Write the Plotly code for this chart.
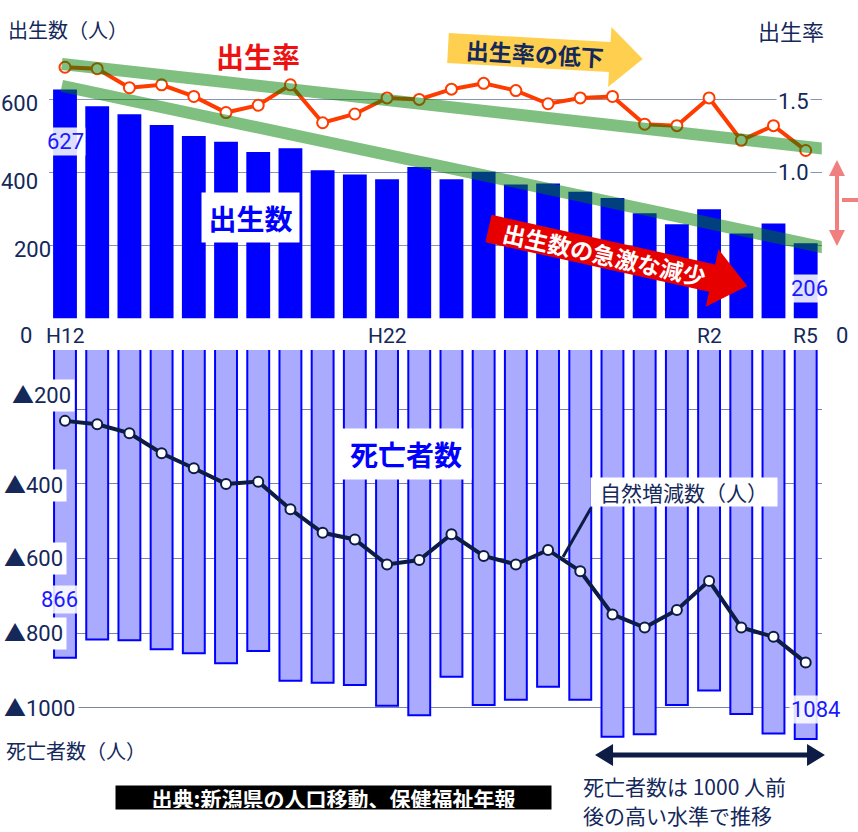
import numpy as np
import plotly.graph_objects as go

# 年度 (H12〜R5)
years = ["H12", "H13", "H14", "H15", "H16", "H17", "H18", "H19", "H20", "H21", "H22", "H23",
         "H24", "H25", "H26", "H27", "H28", "H29", "H30", "R1", "R2", "R3", "R4", "R5"]

# 出生数（人）
births = [627, 581, 559, 530, 500, 484, 456, 466, 406, 394, 381, 415,
          381, 402, 367, 370, 347, 330, 288, 258, 299, 233, 260, 206]

# 出生率
birth_rate = [1.72, 1.71, 1.58, 1.60, 1.52, 1.41, 1.46, 1.60, 1.34, 1.40, 1.51, 1.50,
              1.57, 1.61, 1.56, 1.47, 1.51, 1.52, 1.33, 1.32, 1.51, 1.22, 1.32, 1.15]

# 死亡者数（人）
deaths = [866, 817, 819, 843, 854, 881, 848, 928, 933, 939, 995, 1020,
          917, 993, 979, 944, 979, 1078, 1071, 993, 954, 1017, 1069, 1084]

# 自然増減数（人）
natural = [-231, -240, -264, -318, -358, -400, -394, -468, -531, -549, -616, -604,
           -535, -593, -616, -577, -634, -750, -785, -738, -660, -785, -810, -879]

W, H = 858, 832
JP = "Noto Sans CJK JP"
NUM = "Roboto, Noto Sans CJK JP"
NAVY = "#14285a"


def PX(x):
    return x / W


def PY(y):
    return 1 - y / H


def rot_path(x0, y0, pts, deg):
    # 矢印ポリゴンを回転してpaper座標のpathにする
    t = np.radians(deg)
    out = []
    for u, v in pts:
        x = x0 + u * np.cos(t) - v * np.sin(t)
        y = y0 + u * np.sin(t) + v * np.cos(t)
        out.append("%.4f,%.4f" % (PX(x), PY(y)))
    return "M" + " L".join(out) + " Z"


def poly_path(pts):
    return "M" + " L".join("%.4f,%.4f" % (PX(a), PY(b)) for a, b in pts) + " Z"


def arrow_pts(body_len, body_half, tip, head_half):
    return [(0, -body_half), (body_len, -body_half), (body_len, -head_half), (tip, 0),
            (body_len, head_half), (body_len, body_half), (0, body_half)]


fig = go.Figure()

fig.add_trace(go.Bar(x=years, y=births, xaxis="x", yaxis="y", width=0.74,
                     marker=dict(color="#0000ff", line=dict(width=0))))
fig.add_trace(go.Scatter(x=years, y=birth_rate, xaxis="x", yaxis="y2", mode="lines+markers",
                         line=dict(color="#ff3c00", width=4),
                         marker=dict(size=11, color="white", line=dict(color="#ff3c00", width=2))))
fig.add_trace(go.Bar(x=years, y=[-d for d in deaths], xaxis="x2", yaxis="y3", width=0.68,
                     marker=dict(color="#aaaaff", line=dict(color="#0000ff", width=2))))
fig.add_trace(go.Scatter(x=years, y=natural, xaxis="x2", yaxis="y3", mode="lines+markers",
                         line=dict(color="#0c1c45", width=4),
                         marker=dict(size=10, color="white", line=dict(color="#0c1c45", width=2))))

xdom = [PX(48.9), PX(821.8)]
fig.update_layout(
    width=W, height=H, margin=dict(l=0, r=0, t=0, b=0), autosize=False,
    template="none", showlegend=False, hovermode=False,
    plot_bgcolor="white", paper_bgcolor="white",
    xaxis=dict(domain=xdom, anchor="y", type="category", range=[-0.5, 23.5],
               showticklabels=False, showgrid=False, zeroline=False),
    yaxis=dict(domain=[PY(318.5), PY(30)], range=[0, 790], tickvals=[200, 400, 600],
               showticklabels=False, gridcolor="#8a94b4", gridwidth=1, zeroline=False),
    yaxis2=dict(overlaying="y", anchor="x", side="right", range=[0, 790 / 400],
                showgrid=False, showticklabels=False, zeroline=False),
    xaxis2=dict(domain=xdom, anchor="y3", type="category", range=[-0.5, 23.5],
                showticklabels=False, showgrid=False, zeroline=False),
    yaxis3=dict(domain=[PY(750), PY(350)], range=[-1113.4, -41],
                tickvals=[-200, -400, -600, -800, -1000],
                showticklabels=False, gridcolor="#7a84a8", gridwidth=1, zeroline=False),
)

shapes = []
# 緑のトレンド帯
shapes.append(dict(type="line", xref="x", yref="y", x0=-0.1, y0=697, x1=23.97, y1=461,
                   line=dict(color="rgba(0,128,0,0.5)", width=12)))
shapes.append(dict(type="line", xref="x", yref="y", x0=-0.1, y0=637, x1=23.97, y1=187,
                   line=dict(color="rgba(0,128,0,0.5)", width=12)))
# 黄色い矢印
shapes.append(dict(type="path", xref="paper", yref="paper",
                   path=rot_path(448, 48, arrow_pts(162, 15, 195, 30), 3.2),
                   fillcolor="#ffd04f", line=dict(width=0)))
# 赤い矢印
shapes.append(dict(type="path", xref="paper", yref="paper",
                   path=rot_path(488.5, 228.5, arrow_pts(229, 14, 265, 29.5), 12.5),
                   fillcolor="#e60000", line=dict(width=0)))
# ピンクの両矢印
pink = [(837, 160), (845, 176), (839, 176), (839, 230), (845, 230), (837, 246),
        (829, 230), (835, 230), (835, 176), (829, 176)]
shapes.append(dict(type="path", xref="paper", yref="paper", path=poly_path(pink),
                   fillcolor="#f08080", line=dict(width=0)))
shapes.append(dict(type="line", xref="paper", yref="paper", x0=PX(842), y0=PY(200), x1=PX(858),
                   y1=PY(200), line=dict(color="#f08080", width=4)))
# 自然増減数の引き出し線
shapes.append(dict(type="line", xref="paper", yref="paper", x0=PX(591), y0=PY(508), x1=PX(563),
                   y1=PY(557), line=dict(color="#0c1c45", width=3)))
# 下部の紺色の両矢印
navy = [(595, 755), (613, 744), (613, 752.5), (807, 752.5), (807, 744), (825, 755),
        (807, 766), (807, 757.5), (613, 757.5), (613, 766)]
shapes.append(dict(type="path", xref="paper", yref="paper", path=poly_path(navy),
                   fillcolor="#0c1c45", line=dict(width=0)))
fig.update_layout(shapes=shapes)


def txt(text, x, y, size, color=NAVY, family=JP, bold=False, xanchor="center", **kw):
    fig.add_annotation(text=text, xref=kw.pop("xref", "paper"), yref=kw.pop("yref", "paper"),
                       x=x, y=y, xanchor=xanchor, yanchor=kw.pop("yanchor", "middle"),
                       showarrow=False,
                       font=dict(family=family, size=size, color=color,
                                 weight="bold" if bold else "normal"), **kw)


# 軸目盛ラベル（上段）
for v, right, dy in [(600, 40, -4), (400, 40, -9), (200, 53, -4)]:
    txt(str(v), PX(right), v, 22, family=NUM, xanchor="right", yref="y", yshift=dy)
for v, dy in [(1.5, -2), (1.0, 0)]:
    txt("%.1f" % v, PX(776), v, 22, family=NUM, xanchor="left", yref="y2", yshift=dy,
        bgcolor="white", borderpad=1)
txt("0", PX(26), PY(335), 22, family=NUM)
txt("0", PX(842), PY(335), 22, family=NUM)
for lab in ["H12", "H22", "R2", "R5"]:
    txt(lab, lab, PY(336), 21, family=NUM, xref="x")

# 軸目盛ラベル（下段）
for v, left, dy in [(200, 8, 14), (400, 0, -2), (600, 0, 0), (800, 0, 0), (1000, 0, -1)]:
    txt("▲" + str(v), PX(left), -v, 22, family=NUM, xanchor="left", yref="y3", yshift=dy,
        bgcolor="white", borderpad=3)

# データラベル
lbl_bg = "rgba(255,255,255,0.87)"
txt("627", "H12", PY(141), 22, color="#1a1aff", family=NUM, xref="x", bgcolor=lbl_bg)
txt("206", "R5", PY(289), 22, color="#1a1aff", family=NUM, xref="x", xshift=4, bgcolor=lbl_bg)
txt("866", "H12", PY(599), 22, color="#1a1aff", family=NUM, xref="x", xshift=-6, bgcolor=lbl_bg)
txt("1084", "R5", PY(709), 22, color="#1a1aff", family=NUM, xref="x", xshift=10, bgcolor=lbl_bg)

# 見出し・注記
txt("出生数（人）", PX(6), PY(30), 20, xanchor="left")
txt("出生率", PX(756), PY(30), 22, xanchor="left")
txt("出生率", PX(258), PY(56), 28, color="#ee1111", bold=True)
txt("出生数", PX(250.5), PY(217.5), 28, color="#0000ff", bold=True,
    bgcolor="white", width=95, height=47)
txt("死亡者数", PX(406), PY(454), 28, color="#0000ff", bold=True,
    bgcolor="white", width=128, height=48)
txt("自然増減数（人）", PX(684), PY(492), 21, bgcolor="white", width=184, height=26)
txt("出生率の低下", PX(535), PY(53), 23, bold=True, textangle=3.2)
txt("出生数の急激な減少", PX(604), PY(254), 23, color="white", bold=True, textangle=12.5)
txt("死亡者数（人）", PX(4), PY(750), 20, xanchor="left")
txt("死亡者数は 1000 人前", PX(582), PY(786), 21, xanchor="left", borderpad=0)
txt("後の高い水準で推移", PX(582), PY(815), 21, xanchor="left", borderpad=0)
txt("出典:新潟県の人口移動、保健福祉年報", PX(333.5), PY(797.5), 21, color="white", bold=True,
    bgcolor="black", width=433, height=21)

# ページ余白を消して図を左上に合わせる
fig.write_html("out.html", config={"displayModeBar": False},
               post_script="document.body.style.margin='0';")
